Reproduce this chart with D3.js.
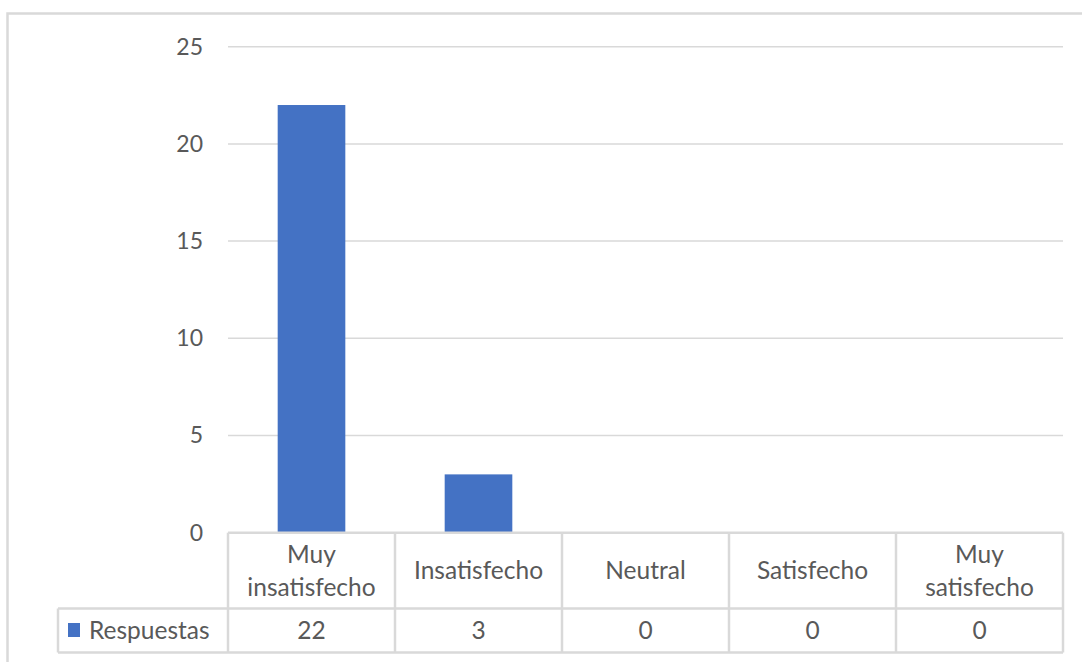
<!DOCTYPE html>
<html>
<head>
<meta charset="utf-8">
<script src="https://cdn.jsdelivr.net/npm/d3@7"></script>
<style>
  body { margin: 0; background: #fff; }
  svg { font-family: Lato, "Liberation Sans", sans-serif; }
</style>
</head>
<body>
<svg id="chart" width="1082" height="662"></svg>
<script>
// Datos de la gráfica
const categorias = [["Muy", "insatisfecho"], ["Insatisfecho"], ["Neutral"], ["Satisfecho"], ["Muy", "satisfecho"]];
const respuestas = [22, 3, 0, 0, 0];
const nombreSerie = "Respuestas";
const ticksY = [0, 5, 10, 15, 20, 25];

const svg = d3.select("#chart");
const gris = "#d9d9d9";
const texto = "#595959";
const azul = "#4472c4";
const tamTexto = "24.5px";

// Marco exterior (se sale por la derecha y abajo)
svg.append("rect")
    .attr("x", 7.5).attr("y", 13.5)
    .attr("width", 1100).attr("height", 700)
    .attr("fill", "none").attr("stroke", gris).attr("stroke-width", 2.5);

const plot = { left: 228, right: 1063, top: 46.7, bottom: 532.7 };

const x = d3.scaleBand()
    .domain(d3.range(categorias.length))
    .range([plot.left, plot.right])
    .paddingInner(0).paddingOuter(0);

const y = d3.scaleLinear()
    .domain([0, 25])
    .range([plot.bottom, plot.top]);

// Líneas de cuadrícula
svg.append("g")
    .selectAll("line")
    .data(ticksY.filter(d => d > 0))
    .enter()
    .append("line")
    .attr("x1", plot.left).attr("x2", plot.right)
    .attr("y1", d => y(d)).attr("y2", d => y(d))
    .attr("stroke", gris).attr("stroke-width", 1.5);

// Etiquetas del eje Y
const ejeY = d3.axisLeft(y).tickValues(ticksY).tickSize(0).tickPadding(0);
const gEje = svg.append("g")
    .attr("transform", "translate(203,0)")
    .call(ejeY);
gEje.select(".domain").remove();
gEje.selectAll("text")
    .attr("fill", texto)
    .style("font-size", "23px")
    .style("font-family", "Lato, 'Liberation Sans', sans-serif");

// Barras
const anchoBarra = x.bandwidth() * 0.405;
svg.append("g")
    .selectAll("rect")
    .data(respuestas)
    .enter()
    .append("rect")
    .attr("x", (d, i) => x(i) + (x.bandwidth() - anchoBarra) / 2)
    .attr("y", d => y(d))
    .attr("width", anchoBarra)
    .attr("height", d => y(0) - y(d))
    .attr("fill", azul);

// Tabla de datos
const filaCab = { top: plot.bottom, bottom: 608.5 };
const filaDat = { top: 608.5, bottom: 652.5 };
const izqLeyenda = 58;

const tabla = svg.append("g").attr("stroke", gris).attr("stroke-width", 2.5).attr("fill", "none");
// líneas horizontales
tabla.append("line").attr("x1", plot.left).attr("x2", plot.right).attr("y1", filaCab.top).attr("y2", filaCab.top);
tabla.append("line").attr("x1", izqLeyenda).attr("x2", plot.right).attr("y1", filaDat.top).attr("y2", filaDat.top);
tabla.append("line").attr("x1", izqLeyenda).attr("x2", plot.right).attr("y1", filaDat.bottom).attr("y2", filaDat.bottom);
// líneas verticales
const bordes = d3.range(categorias.length + 1).map(i => i < categorias.length ? x(i) : plot.right);
tabla.selectAll(".v")
    .data(bordes)
    .enter()
    .append("line")
    .attr("x1", d => d).attr("x2", d => d)
    .attr("y1", filaCab.top).attr("y2", filaDat.bottom);
tabla.append("line").attr("x1", izqLeyenda).attr("x2", izqLeyenda).attr("y1", filaDat.top).attr("y2", filaDat.bottom);

// Textos de categoría
const cab = svg.append("g")
    .attr("fill", texto).style("font-size", tamTexto).attr("text-anchor", "middle");
categorias.forEach((lineas, i) => {
    const cx = x(i) + x.bandwidth() / 2;
    const cy = (filaCab.top + filaCab.bottom) / 2;
    const alto = 33;
    lineas.forEach((l, j) => {
        cab.append("text")
            .attr("x", cx)
            .attr("y", cy + (j - (lineas.length - 1) / 2) * alto)
            .attr("dy", "0.35em")
            .text(l);
    });
});

// Valores
svg.append("g")
    .attr("fill", texto).style("font-size", tamTexto).attr("text-anchor", "middle")
    .selectAll("text")
    .data(respuestas)
    .enter()
    .append("text")
    .attr("x", (d, i) => x(i) + x.bandwidth() / 2)
    .attr("y", (filaDat.top + filaDat.bottom) / 2)
    .attr("dy", "0.35em")
    .text(d => d);

// Leyenda
svg.append("rect")
    .attr("x", 68).attr("y", 623).attr("width", 12).attr("height", 14)
    .attr("fill", azul);
svg.append("text")
    .attr("x", 89).attr("y", (filaDat.top + filaDat.bottom) / 2)
    .attr("dy", "0.35em")
    .attr("fill", texto).style("font-size", tamTexto)
    .text(nombreSerie);
</script>
</body>
</html>
